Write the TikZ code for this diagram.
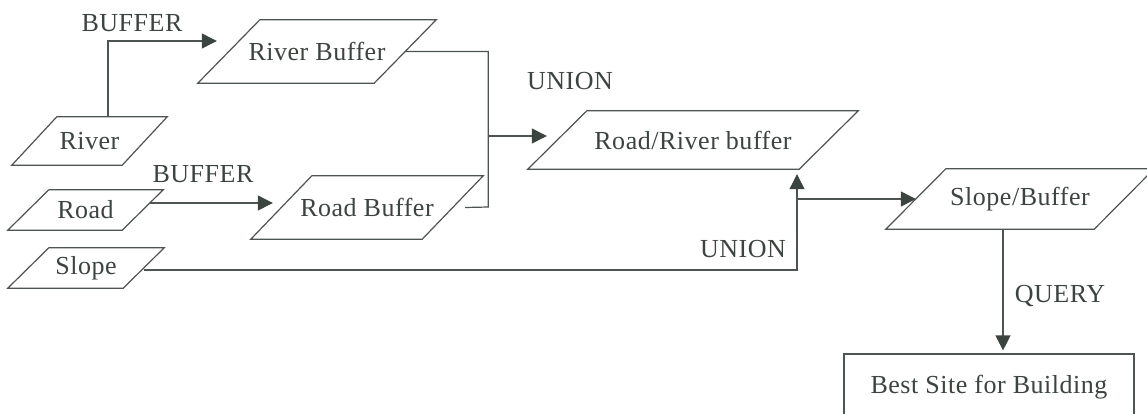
\documentclass[tikz,border=0pt]{standalone}
\usepackage{fontspec}
\setmainfont[LetterSpace=2]{Liberation Serif}
\usetikzlibrary{arrows.meta,calc}
\definecolor{linec}{RGB}{78,84,81}
\definecolor{textc}{RGB}{60,68,64}
\definecolor{tipc}{RGB}{60,68,64}
\newcommand\paral[2]{\draw[boxline] ([xshift=-#2]#1.south west) -- ([xshift=-#2]#1.south east) -- ([xshift=#2]#1.north east) -- ([xshift=#2]#1.north west) -- cycle;}
\begin{document}
\begin{tikzpicture}[x=1pt,y=-1pt,
  txt/.style={text=textc,font=\fontsize{26}{31}\selectfont,inner sep=0pt},
  pbox/.style={txt,minimum width=#1},
  boxline/.style={draw=linec,line width=1.2pt,line join=miter},
  conn/.style={draw=linec,line width=1.2pt},
  arr/.style={conn,-{Triangle[length=15pt,width=15pt,fill=tipc,color=tipc]}},
  lbl/.style={txt}]
\useasboundingbox[fill=white] (0,0) rectangle (1147,413);
% data layers
\node[pbox=110,minimum height=48pt] (river) at (89.5,141) {River};
\node[pbox=114,minimum height=40pt] (road) at (85.5,210) {Road};
\node[pbox=115,minimum height=40pt] (slope) at (86,268) {Slope};
\node[pbox=176,minimum height=63pt] (rbuf) at (317,51.5) {River Buffer};
\node[pbox=171,minimum height=63pt] (rdbuf) at (367,207.5) {Road Buffer};
\node[pbox=271,minimum height=58pt] (rr) at (693,140) {Road/River buffer};
\node[pbox=208,minimum height=60pt] (sb) at (1020,199) {Slope/Buffer};
\node[txt,draw=linec,line width=1.2pt,minimum width=290pt,minimum height=66pt] (best) at (989,387) {Best Site for Building};
\paral{river}{22.5pt}
\paral{road}{20.5pt}
\paral{slope}{20.5pt}
\paral{rbuf}{31pt}
\paral{rdbuf}{30.5pt}
\paral{rr}{29.5pt}
\paral{sb}{30pt}
% labels
\node[lbl] (lb1) at (132,23) {BUFFER};
\node[lbl] (lb2) at (203,174) {BUFFER};
\node[lbl] (lu1) at (570,81) {UNION};
\node[lbl] (lu2) at (743,249) {UNION};
\node[lbl] (lq) at (1060,296) {QUERY};
% connectors
\coordinate (rbin) at ([xshift=-12pt,yshift=10.5pt]rbuf.west);
\draw[arr] ([xshift=18.5pt]river.north) |- (rbin);
\coordinate (rdin) at ([xshift=-8.5pt,yshift=4.5pt]rdbuf.west);
\draw[arr] ([xshift=7pt,yshift=7pt]road.east) -- (rdin);
\coordinate (jn) at ([xshift=35.5pt,yshift=0.5pt]rdbuf.east);
\draw[conn] (rbuf.east) -| (jn) -- ([xshift=12.5pt]rdbuf.east);
\coordinate (rrin) at ([xshift=-10.5pt,yshift=4pt]rr.west);
\draw[arr] (jn |- rrin) -- (rrin);
\coordinate (rrbot) at ([xshift=104pt,yshift=-5pt]rr.south);
\draw[arr] ([yshift=-2pt]slope.east) -| (rrbot);
\draw[arr] (rrbot |- sb.west) -- (sb.west);
\draw[arr] ([xshift=-17pt]sb.south) -- ([xshift=14pt,yshift=3pt]best.north);
\end{tikzpicture}
\end{document}
